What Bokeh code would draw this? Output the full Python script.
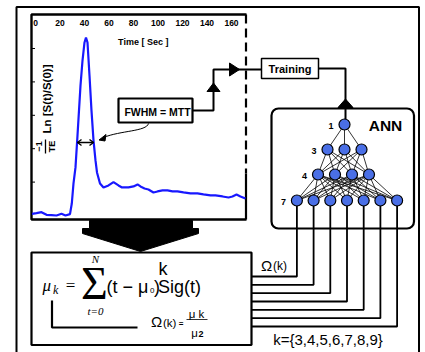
import math
from bokeh.plotting import figure
from bokeh.models import Range1d
from bokeh.core.properties import value
from bokeh.embed import file_html
from bokeh.resources import INLINE

# ---------------- data ----------------
time_s = [-2.86, 0.82, 4.90, 8.98, 13.06, 17.14, 21.22, 24.49, 28.16, 29.63, 31.02,
          32.65, 34.29, 36.73, 38.37, 40.0, 41.22, 42.45, 44.08, 45.71, 47.35, 48.98,
          50.2, 52.65, 55.51, 59.59, 63.67, 67.76, 70.61, 75.92, 80.0, 83.3, 85.7,
          89.0, 92.2, 96.3, 99.6, 103.7, 107.8, 111.8, 115.9, 120.8, 126.5, 132.2,
          137.1, 142.9, 146.9, 152.7, 157.6, 160.8, 164.1, 167.3, 171.4]
signal = [0.05, 0.07, 0.10, 0.02, 0.01, 0.0, 0.05, 0.0, 0.04, 0.36, 0.96,
          1.44, 2.40, 3.89, 4.64, 5.18, 5.33, 5.18, 4.19, 3.14, 2.25, 1.65,
          1.29, 0.96, 0.84, 0.90, 1.00, 0.90, 0.84, 0.84, 0.87, 0.93, 0.87,
          0.81, 0.78, 0.69, 0.72, 0.75, 0.75, 0.72, 0.72, 0.69, 0.66, 0.66,
          0.63, 0.60, 0.60, 0.57, 0.54, 0.57, 0.63, 0.57, 0.51]
x_ticks = [0, 20, 40, 60, 80, 100, 120, 140, 160]
x_tick_labels = ["0", "20", "40", "60", "80", "100", "120", "140", "160"]
y_ticks = [1, 2, 3, 4, 5]
layer_sizes = [1, 3, 4, 7]
layer_labels = ["1", "3", "4", "7"]
k_values = [3, 4, 5, 6, 7, 8, 9]

# ---------------- canvas (1 unit = 1 screen px, page origin) ----------------
W, H = 425, 352
X0, Y0 = 0, 0
p = figure(width=W, height=H, x_range=Range1d(X0, X0 + W), y_range=Range1d(Y0 + H, Y0),
           output_backend="svg", toolbar_location=None, min_border=0,
           x_axis_location=None, y_axis_location=None)
p.grid.visible = False
p.outline_line_color = None
p.background_fill_color = "white"

SANS = value("Liberation Sans")
SERIF = value("Liberation Serif")


def T(x, y, s, size, font=SANS, style="normal", align="center", baseline="middle",
      angle=0.0, color="black"):
    p.text(x=[x], y=[y], text=[s], text_font=font, text_font_size=f"{size}px",
           text_font_style=style, text_align=align, text_baseline=baseline,
           angle=angle, text_color=color)


# scales for the curve inset
T0_PX, T_SCALE = 35.0, 1.225
V0_PX, V_SCALE = 215.0, 33.4
p.extra_x_ranges = {"t": Range1d((X0 - T0_PX) / T_SCALE, (X0 + W - T0_PX) / T_SCALE)}
p.extra_y_ranges = {"v": Range1d((V0_PX - (Y0 + H)) / V_SCALE, (V0_PX - Y0) / V_SCALE)}

# outer frame
p.line([16, 16, 418.5, 418.5], [353, 6.5, 6.5, 353], line_color="black", line_width=2)

# inset plot frame
p.line([246, 31, 31, 246], [14, 14, 219, 219], line_color="black", line_width=2.4)
p.line([245.5, 245.5], [14, 173], line_color="black", line_width=2.2, line_dash="9 5")
p.line([245.5, 245.5], [173, 219], line_color="black", line_width=2.2)

# ticks + labels
p.segment(x0=[31] * len(y_ticks), x1=[34.5] * len(y_ticks), y0=y_ticks, y1=y_ticks,
          y_range_name="v", line_color="black", line_width=1)
p.text(x=x_ticks, y=[22] * len(x_ticks), text=x_tick_labels, x_range_name="t",
       text_font=SANS, text_font_style="bold", text_font_size="8.5px",
       text_align="center", text_baseline="middle")
T(144, 41, "Time  [ Sec ]", 9, style="bold")

# curve
p.line(time_s, signal, x_range_name="t", y_range_name="v", line_color="#1818ff",
       line_width=2.2)

# y label (rotated)
T(46.5, 98.5, "Ln [S(t)/S(0)]", 11.5, style="bold", angle=math.pi / 2)
T(38.5, 146, "\u22121", 9, style="bold", angle=math.pi / 2)
T(51.5, 146, "TE", 9, style="bold", angle=math.pi / 2)
p.line([45, 45], [139, 153], line_color="black", line_width=1.3)

# FWHM double arrow
p.line([77, 93], [142, 142], line_color="black", line_width=1.4)
p.multi_line([[81, 77, 81], [89, 93, 89]], [[139, 142, 145], [139, 142, 145]],
             line_color="black", line_width=1.4)

# FWHM box and curved pointer
p.quad(left=[118], right=[192], top=[98], bottom=[122], fill_color="white",
       line_color="black", line_width=2.2)
T(157, 111.5, "FWHM = MTT", 10.5, style="bold")
p.bezier(x0=[148], y0=[123], x1=[103], y1=[137], cx0=[146], cy0=[131], cx1=[120],
         cy1=[130], line_color="black", line_width=1)
p.patch([98.5, 105.5, 104.5], [139.5, 134, 140.5], color="black")

# connector to Training
p.line([192, 213, 213, 261], [110, 110, 69, 69], line_color="black", line_width=2)
p.patch([213, 206.5, 219.5], [82.5, 91, 91], color="black")
p.patch([239, 229, 229], [69, 62.5, 75.5], color="black")

# Training box
p.quad(left=[261], right=[318], top=[58], bottom=[78], fill_color="white",
       line_color="black", line_width=1.5)
T(289.5, 68, "Training", 11, style="bold")

# Training -> ANN
p.line([318, 345, 345], [68, 68, 124], line_color="black", line_width=2)

# ANN box
p.rect(x=[342.25], y=[168], width=[142.5], height=[120], fill_color=None,
       line_color="black", line_width=2.2, border_radius=7)
p.patch([345, 337.5, 352.5], [98.5, 107, 107], color="black")
T(385, 125, "ANN", 15.5, style="bold")

layer_y = [124, 149, 174, 200]
layer_cx = [344, 344, 343, 346.5]
layer_dx = [0, 17, 17, 16.7]
nodes = []
for n, cy, cx, dx in zip(layer_sizes, layer_y, layer_cx, layer_dx):
    nodes.append([(cx + (i - (n - 1) / 2) * dx, cy) for i in range(n)])

ex0, ey0, ex1, ey1 = [], [], [], []
for a, b in zip(nodes[:-1], nodes[1:]):
    for (xa, ya) in a:
        for (xb, yb) in b:
            ex0.append(xa); ey0.append(ya); ex1.append(xb); ey1.append(yb)
p.segment(x0=ex0, y0=ey0, x1=ex1, y1=ey1, line_color="black", line_width=0.8)

# outputs from input layer to formula box
out_top, out_step = 276, 8.33
for i, (xn, yn) in enumerate(nodes[-1]):
    yl = out_top + i * out_step
    p.line([xn, xn, 251], [yn, yl, yl], line_color="black", line_width=1.8)

for layer, lab in zip(nodes, layer_labels):
    p.scatter([q[0] for q in layer], [q[1] for q in layer], size=11,
              fill_color="#4a6fe6", line_color="black", line_width=1.2)
    T(layer[0][0] - 13.5, layer[0][1] + 1.5, lab, 9, style="bold")

T(266, 264.5, "\u03a9", 15)
T(272.5, 265.5, "(k)", 12, align="left")
T(327.5, 338.5, "k={" + ",".join(str(k) for k in k_values) + "}", 15)

# big down arrow
p.patch([89, 192, 192, 198, 198, 140, 82, 82, 89],
        [220, 220, 228, 228, 233, 251, 233, 228, 228], color="black")

# formula box
p.quad(left=[31], right=[251], top=[252], bottom=[344.5], fill_color="white",
       line_color="black", line_width=2.2)
T(42, 285, "\u03bc", 17, font=SERIF, style="italic", align="left")
T(52.5, 289, "k", 12, font=SERIF, style="italic", align="left")
T(70, 285, "=", 17, font=SERIF)
T(94, 283, "\u03a3", 46, font=SERIF)
T(95, 258, "N", 11, font=SERIF, style="italic")
T(95, 310, "t=0", 11, font=SERIF, style="italic")
T(106, 286, "(t \u2212 \u03bc", 18, align="left")
T(149.5, 290, "0", 8, align="left")
T(153.5, 286, ")", 18, align="left")
T(157.5, 286, "Sig(t)", 18, align="left")
T(162.5, 268, "k", 18)
p.line([51.5, 51.5, 137], [300, 327, 327], line_color="black", line_width=2.2)
T(156, 321, "\u03a9", 15)
T(162.5, 322, "(k)", 11.5, align="left")
T(180.5, 322.5, "=", 8, style="bold")
T(196, 313, "\u03bc k", 11.5)
p.line([186, 207], [319, 319], line_color="black", line_width=0.8)
T(194, 332, "\u03bc", 11.5)
T(200.5, 333, "2", 9, style="bold")

open("out.html", "w").write(file_html(p, INLINE))
